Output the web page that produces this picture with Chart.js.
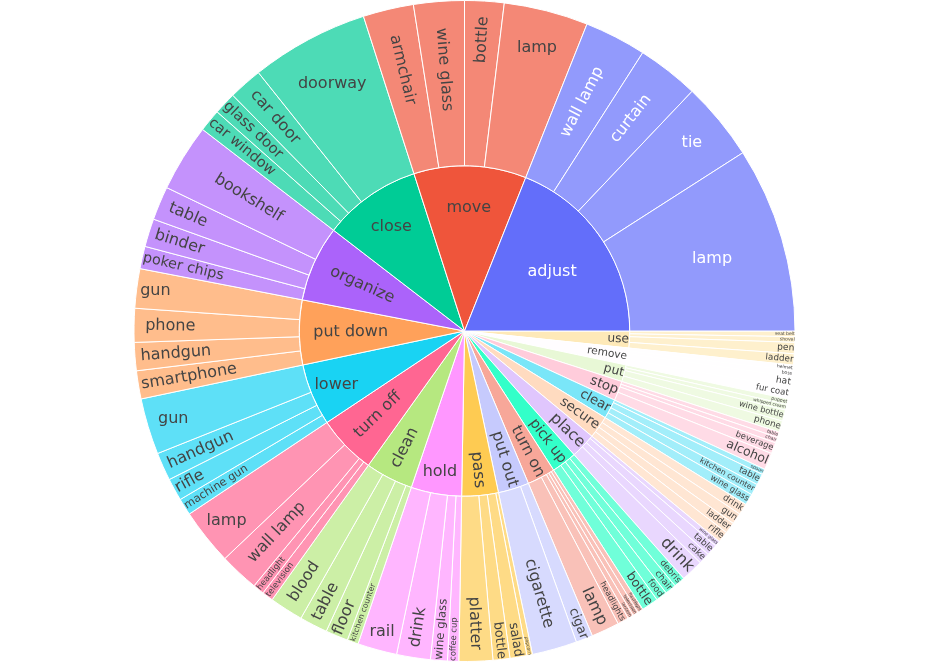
<!DOCTYPE html>
<html>
<head>
<meta charset="utf-8">
<script src="https://cdn.jsdelivr.net/npm/chart.js@4.4.0/dist/chart.umd.min.js"></script>
<style>
  html, body { margin: 0; padding: 0; background: #fff; }
  #wrap { width: 929px; height: 664px; }
</style>
</head>
<body>
<div id="wrap"><canvas id="chart"></canvas></div>
<script>
// inner ring (actions), counter-clockwise from 3 o'clock
const actions = ['adjust', 'move', 'close', 'organize', 'put down', 'lower', 'turn off', 'clean', 'hold', 'pass',
  'put out', 'turn on', 'pick up', 'place', 'secure', 'clear', 'stop', 'put', 'remove', 'use'];

// plotly colorway + its lightened extension
const actionColors = ['#636efa', '#ef553b', '#00cc96', '#ab63fa', '#ffa15a', '#19d3f3', '#ff6692', '#b6e880', '#ff97ff', '#fecb52',
  '#c6cafd', '#f7a799', '#33ffc9', '#e0c6fd', '#ffdbc0', '#7ae6f8', '#ffccdb', '#e8f8d6', '#fffdff', '#fee9b8'];

// outer ring (objects), same order
const leafAction = [
  'adjust', 'adjust', 'adjust', 'adjust',
  'move', 'move', 'move', 'move',
  'close', 'close', 'close', 'close',
  'organize', 'organize', 'organize', 'organize',
  'put down', 'put down', 'put down', 'put down',
  'lower', 'lower', 'lower', 'lower',
  'turn off', 'turn off', 'turn off', 'turn off',
  'clean', 'clean', 'clean', 'clean',
  'hold', 'hold', 'hold', 'hold',
  'pass', 'pass', 'pass', 'pass',
  'put out', 'put out',
  'turn on', 'turn on', 'turn on', 'turn on', 'turn on',
  'pick up', 'pick up', 'pick up', 'pick up',
  'place', 'place', 'place', 'place',
  'secure', 'secure', 'secure', 'secure',
  'clear', 'clear', 'clear', 'clear',
  'stop', 'stop', 'stop', 'stop',
  'put', 'put', 'put', 'put',
  'remove', 'remove', 'remove', 'remove',
  'use', 'use', 'use', 'use'
];
const leafObject = [
  'lamp', 'tie', 'curtain', 'wall lamp',
  'lamp', 'bottle', 'wine glass', 'armchair',
  'doorway', 'car door', 'glass door', 'car window',
  'bookshelf', 'table', 'binder', 'poker chips',
  'gun', 'phone', 'handgun', 'smartphone',
  'gun', 'handgun', 'rifle', 'machine gun',
  'lamp', 'wall lamp', 'headlight', 'television',
  'blood', 'table', 'floor', 'kitchen counter',
  'rail', 'drink', 'wine glass', 'coffee cup',
  'platter', 'bottle', 'salad', 'popcorn',
  'cigarette', 'cigar',
  'lamp', 'headlights', 'lantern', 'television', 'flashlight',
  'bottle', 'food', 'chair', 'debris',
  'drink', 'cake', 'table', 'wine glass',
  'rifle', 'ladder', 'gun', 'drink',
  'wine glass', 'kitchen counter', 'table', 'spoon',
  'alcohol', 'beverage', 'chair', 'table',
  'phone', 'wine bottle', 'whipped cream', 'puppet',
  'fur coat', 'hat', 'boss', 'helmet',
  'ladder', 'pen', 'shovel', 'seat belt'
];
const leafCount = [
  33, 14, 11, 11,
  15, 7, 9, 9,
  21, 6, 4, 4,
  12, 6, 5, 4,
  7, 6, 5, 5,
  10, 5, 4, 3,
  10, 7, 2, 2,
  6, 5, 4, 2,
  7, 6, 3, 2,
  6, 3, 3, 1,
  8, 3,
  5, 2, 1, 1, 1,
  3, 2, 2, 2,
  4, 2, 2, 1,
  2, 2, 2, 2,
  2, 2, 2, 1,
  3, 2, 1, 1,
  2, 2, 1, 1,
  2, 2, 1, 1,
  2, 2, 1, 1
];

const FONT_SIZE = 16;
const FONT_FAMILY = '"DejaVu Sans", Verdana, sans-serif';
const TEXTPAD = 3;

function hexRgb(h) {
  return [1, 3, 5].map(i => parseInt(h.slice(i, i + 2), 16));
}
function leafColor(h) {
  // leaves are drawn at 0.7 opacity over white
  const [r, g, b] = hexRgb(h);
  return `rgb(${[r, g, b].map(v => Math.round(v * 0.7 + 255 * 0.3)).join(',')})`;
}
function textColor(h) {
  const [r, g, b] = hexRgb(h);
  return (r * 299 + g * 587 + b * 114) / 1000 < 128 ? '#ffffff' : '#444444';
}

const actionTotals = actions.map(a =>
  leafCount.reduce((s, v, i) => (leafAction[i] === a ? s + v : s), 0));

// chart.js draws clockwise, so reverse everything
const innerLabels = actions.slice().reverse();
const innerData = actionTotals.slice().reverse();
const innerColors = actionColors.slice().reverse();
const outerLabels = leafObject.slice().reverse();
const outerData = leafCount.slice().reverse();
const outerParents = leafAction.slice().reverse();
const outerColors = outerParents.map(a => leafColor(actionColors[actions.indexOf(a)]));

function maxHalfSize(a, half, r, ring) {
  const q = a + 1 / (2 * Math.tan(half));
  return r * Math.min(1 / (Math.sqrt(q * q + 0.5) + q), ring / (Math.sqrt(a * a + ring / 2) + a));
}
function calcRotate(t) {
  return ((t * 180 / Math.PI + 720) % 180) - 90;
}

// sunburst style labels: horizontal, tangential or radial, whatever fits best
const sliceLabels = {
  id: 'sliceLabels',
  afterDatasetsDraw(chart) {
    const ctx = chart.ctx;
    chart.data.datasets.forEach((ds, di) => {
      const meta = chart.getDatasetMeta(di);
      meta.data.forEach((el, i) => {
        const text = ds.names[i];
        const p = el.getProps(['x', 'y', 'startAngle', 'endAngle', 'innerRadius', 'outerRadius'], true);
        const span = p.endAngle - p.startAngle;
        const half = 0.5 * Math.min(span, Math.PI);
        const r1 = p.outerRadius;
        const ring = 1 - p.innerRadius / r1;
        const c = (p.startAngle + p.endAngle) / 2;
        const mid = c + Math.PI / 2;

        ctx.save();
        ctx.font = `${FONT_SIZE}px ${FONT_FAMILY}`;
        const w = ctx.measureText(text).width;
        const h = FONT_SIZE * 1.164;

        const rIns = Math.max(0, Math.min(1 / (1 + 1 / Math.sin(half)), ring / 2));
        let best = { scale: rIns * r1 * 2 / Math.hypot(w, h), rc: 1 - rIns, rotate: 0 };
        if (best.scale < 1) {
          const r = Math.max(0, r1 - 2 * TEXTPAD);
          let a = h / w;
          let s = maxHalfSize(a, half, r, ring);
          const tan = { scale: 2 * s / w, rc: Math.cos(s / r) - a * s / r, rotate: calcRotate(mid + Math.PI / 2) };
          a = w / h;
          s = maxHalfSize(a, half, r, ring);
          const rad = { scale: 2 * s / h, rc: Math.cos(s / r) - a * s / r, rotate: calcRotate(mid) };
          [tan, rad].forEach(t => { if (t.scale > best.scale) best = t; });
        }
        const sc = Math.min(1, best.scale);
        const tx = p.x + Math.cos(c) * best.rc * r1;
        const ty = p.y + Math.sin(c) * best.rc * r1;

        ctx.translate(tx, ty);
        ctx.rotate(best.rotate * Math.PI / 180);
        ctx.scale(sc, sc);
        ctx.fillStyle = ds.textColors[i];
        ctx.textAlign = 'center';
        ctx.textBaseline = 'middle';
        ctx.fillText(text, 0, 0);
        ctx.restore();
      });
    });
  }
};

new Chart(document.getElementById('chart'), {
  type: 'doughnut',
  data: {
    labels: outerLabels,
    datasets: [
      {
        data: outerData,
        names: outerLabels,
        backgroundColor: outerColors,
        textColors: outerParents.map(a => textColor(actionColors[actions.indexOf(a)])),
        borderColor: '#ffffff',
        borderWidth: 1,
      },
      {
        data: innerData,
        names: innerLabels,
        backgroundColor: innerColors,
        textColors: innerColors.map(textColor),
        borderColor: '#ffffff',
        borderWidth: 1,
      },
    ],
  },
  options: {
    responsive: true,
    maintainAspectRatio: false,
    animation: false,
    events: [],
    cutout: 0,
    rotation: 90,
    layout: { padding: { top: 0, bottom: 2 } },
    plugins: {
      legend: { display: false },
      tooltip: { enabled: false },
    },
  },
  plugins: [sliceLabels],
});
</script>
</body>
</html>
